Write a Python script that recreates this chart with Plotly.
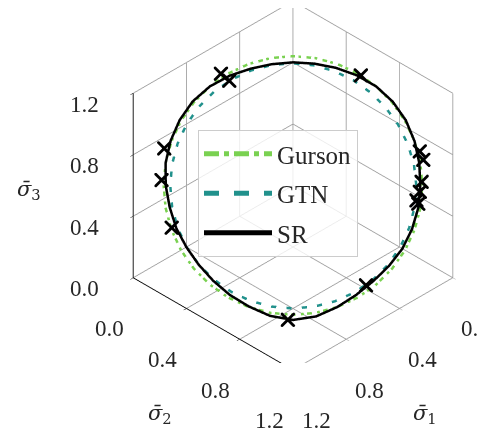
import numpy as np
import plotly.graph_objects as go

# ---- data -------------------------------------------------------------
# angle of the point in the deviatoric (pi) plane, degrees, counter-clockwise
# from the screen-right direction; radius = deviatoric stress norm
angles_deg = [0, 10, 20, 30, 40, 50, 60, 70, 80, 90, 100, 110,
              120, 130, 140, 150, 160, 170, 180, 190, 200, 210, 220, 230,
              240, 250, 260, 270, 280, 290, 300, 310, 320, 330, 340, 350]
gurson_r = [0.687, 0.687, 0.687, 0.687, 0.687, 0.687, 0.687, 0.687, 0.687,
            0.687, 0.687, 0.687, 0.687, 0.687, 0.687, 0.687, 0.687, 0.687,
            0.687, 0.687, 0.687, 0.687, 0.687, 0.687, 0.687, 0.687, 0.687,
            0.687, 0.687, 0.687, 0.687, 0.687, 0.687, 0.687, 0.687, 0.687]
gtn_r = [0.655, 0.652, 0.648, 0.645, 0.643, 0.643, 0.644, 0.646, 0.648,
         0.649, 0.650, 0.650, 0.650, 0.651, 0.651, 0.652, 0.652, 0.652,
         0.652, 0.652, 0.653, 0.653, 0.653, 0.653, 0.653, 0.653, 0.653,
         0.653, 0.653, 0.654, 0.655, 0.656, 0.657, 0.657, 0.657, 0.656]
sr_r = [0.676, 0.681, 0.687, 0.692, 0.692, 0.687, 0.676, 0.665, 0.657,
        0.654, 0.654, 0.660, 0.673, 0.687, 0.695, 0.695, 0.692, 0.687,
        0.676, 0.665, 0.660, 0.654, 0.654, 0.660, 0.671, 0.684, 0.703,
        0.714, 0.706, 0.687, 0.671, 0.663, 0.665, 0.671, 0.673, 0.676]
pts_angle_deg = [122.8, 121.3, 58.4, 163.9, 177.6, 199.1, 15.1, 11.2,
                 1.7, 357.2, 353.2, 351.8, 267.8, 306.2]
pts_r = [0.707, 0.652, 0.687, 0.712, 0.699, 0.682, 0.697, 0.705,
         0.683, 0.674, 0.660, 0.672, 0.713, 0.656]
hydrostatic = 0.6
ticks = [0.0, 0.4, 0.8, 1.2]
tick_labels = ["0.0", "0.4", "0.8", "1.2"]
axis_max = 1.2

# ---- pi-plane -> principal stresses ------------------------------------
e_right = np.array([-1.0, 1.0, 0.0]) / np.sqrt(2)
e_up = np.array([-1.0, -1.0, 2.0]) / np.sqrt(6)


def principal(ang, rad, close=True):
    a = np.radians(np.asarray(ang, float))
    r = np.asarray(rad, float)
    if close:
        a = np.append(a, a[0])
        r = np.append(r, r[0])
    s = (np.outer(r * np.cos(a), e_right) + np.outer(r * np.sin(a), e_up)
         + hydrostatic)
    return s[:, 0], s[:, 1], s[:, 2]


serif = "Liberation Serif"
txt = "#262626"
grid = "#a0a0a0"
fig = go.Figure()

x, y, z = principal(angles_deg, gurson_r)
fig.add_trace(go.Scatter3d(x=x, y=y, z=z, mode="lines", name="Gurson",
                           legendgroup="a",
                           line=dict(color="#7ad151", width=5, dash="dashdot")))
x, y, z = principal(angles_deg, gtn_r)
fig.add_trace(go.Scatter3d(x=x, y=y, z=z, mode="lines", name="GTN",
                           legendgroup="b",
                           line=dict(color="#21918c", width=5, dash="dash")))
x, y, z = principal(angles_deg, sr_r)
fig.add_trace(go.Scatter3d(x=x, y=y, z=z, mode="lines", name="SR",
                           legendgroup="c",
                           line=dict(color="black", width=5)))
x, y, z = principal(pts_angle_deg, pts_r, close=False)
fig.add_trace(go.Scatter3d(x=x, y=y, z=z, mode="markers", showlegend=False,
                           marker=dict(symbol="x", size=3.3, color="black")))


def ax(linecolor):
    return dict(range=[0, axis_max], autorange=False, tickvals=ticks,
                showticklabels=False, title=dict(text=""),
                showgrid=True, gridcolor=grid, gridwidth=2,
                showbackground=False, zeroline=False,
                showline=True, linecolor=linecolor, linewidth=2,
                showspikes=False, ticks="outside", ticklen=4,
                tickcolor=linecolor)


# tick labels and axis titles placed at their 3-D positions
ann = []
for t, lab in zip(ticks, tick_labels):
    ann.append(dict(x=axis_max, y=0, z=t, text=lab, showarrow=False,
                    xanchor="right", yanchor="middle", xshift=-32, yshift=-11))
    ann.append(dict(x=axis_max, y=t, z=0, text=lab, showarrow=False,
                    xanchor="center", yanchor="middle", xshift=-24, yshift=-51))
    ann.append(dict(x=t, y=axis_max, z=0, text=lab, showarrow=False,
                    xanchor="center", yanchor="middle", xshift=23, yshift=-51))
for a in ann:
    a["font"] = dict(family=serif, size=23, color=txt)
mid = axis_max / 2
tfont = dict(family="DejaVu Serif", size=21, color=txt)
ann.append(dict(x=axis_max, y=0, z=mid, text="<i>σ̄</i><sub>3</sub>",
                showarrow=False, xanchor="center", yanchor="middle",
                xshift=-104, yshift=-5, font=tfont))
ann.append(dict(x=axis_max, y=mid, z=0, text="<i>σ̄</i><sub>2</sub>",
                showarrow=False, xanchor="center", yanchor="middle",
                xshift=-53, yshift=-90, font=tfont))
ann.append(dict(x=mid, y=axis_max, z=0, text="<i>σ̄</i><sub>1</sub>",
                showarrow=False, xanchor="center", yanchor="middle",
                xshift=52, yshift=-90, font=tfont))

W, H = 479, 424   # page adds an 8 px body margin
fig.update_layout(
    width=W, height=H, margin=dict(l=0, r=0, t=0, b=0),
    paper_bgcolor="white",
    scene=dict(
        domain=dict(x=[0.19, 1.0], y=[0.163, 1.0]),
        xaxis=ax(grid),
        yaxis=ax("black"),
        zaxis=ax("black"),
        aspectmode="manual",
        aspectratio=dict(x=1.273, y=1.273, z=1.273),
        annotations=ann,
        camera=dict(eye=dict(x=1.25, y=1.25, z=1.25), up=dict(x=0, y=0, z=1),
                    center=dict(x=0, y=0, z=0),
                    projection=dict(type="orthographic")),
    ),
    legend=dict(x=190 / W, y=1 - 122 / H, xanchor="left", yanchor="top",
                bgcolor="rgba(255,255,255,0.8)", bordercolor="#cccccc",
                borderwidth=1, font=dict(family=serif, size=25, color=txt),
                itemwidth=68, traceorder="grouped", tracegroupgap=4),
)

fig.write_html("out.html")
